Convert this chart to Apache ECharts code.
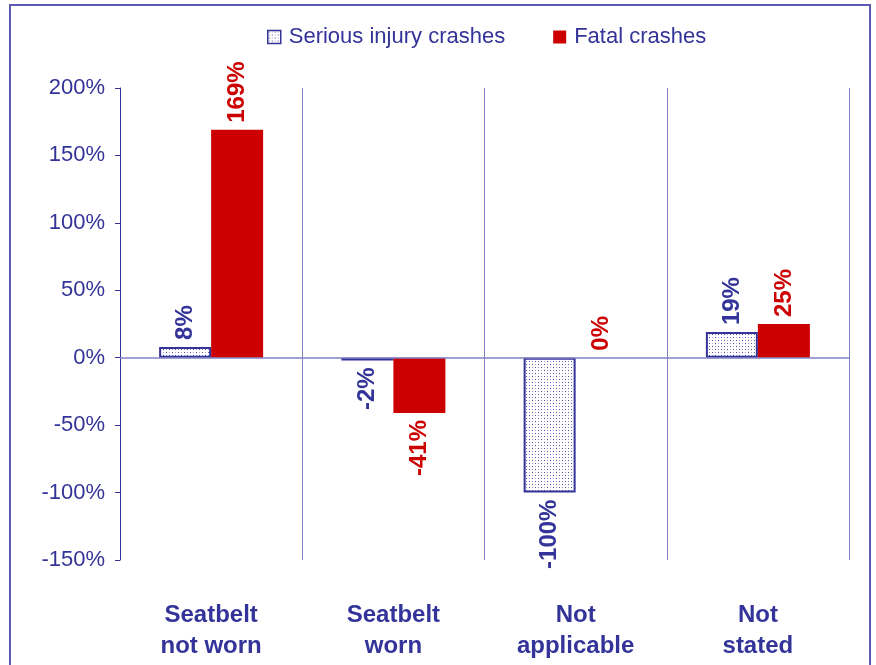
<!DOCTYPE html>
<html>
<head>
<meta charset="utf-8">
<script src="https://cdn.jsdelivr.net/npm/echarts@6/dist/echarts.min.js"></script>
<style>
  html, body { margin: 0; padding: 0; background: #fff; }
  #main { width: 876px; height: 665px; }
</style>
</head>
<body>
<div id="main"></div>
<script>
var categories = ['Seatbelt\nnot worn', 'Seatbelt\nworn', 'Not\napplicable', 'Not\nstated'];
var seriousInjury = [8, -2, -100, 19];
var fatal = [169, -41, 0, 25];
var yTicks = { min: -150, max: 200, interval: 50 };

var NAVY = '#333399';
var RED = '#cc0000';
var FONT = 'Liberation Sans, Arial, sans-serif';

// dotted fill for the serious injury bars
var dots = document.createElement('canvas');
dots.width = 6;
dots.height = 6;
var ctx = dots.getContext('2d');
ctx.fillStyle = '#ffffff';
ctx.fillRect(0, 0, 6, 6);
ctx.fillStyle = '#4a4aa0';
ctx.fillRect(1, 1, 1, 1);
ctx.fillRect(4, 4, 1, 1);
ctx.fillStyle = '#9c9cd0';
ctx.fillRect(4, 1, 1, 1);
ctx.fillRect(1, 4, 1, 1);

function labelled(values, color) {
  return values.map(function (v) {
    return {
      value: v,
      label: {
        show: true,
        position: v < 0 ? 'bottom' : 'top',
        rotate: 90,
        align: v < 0 ? 'right' : 'left',
        verticalAlign: 'middle',
        distance: 7,
        color: color,
        fontWeight: 'bold',
        fontSize: 24,
        fontFamily: FONT,
        formatter: '{c}%'
      }
    };
  });
}

var myChart = echarts.init(document.getElementById('main'));
var option = {
  animation: false,
  textStyle: { fontFamily: FONT },
  graphic: [{
    type: 'rect',
    shape: { x: 10, y: 5, width: 860, height: 700 },
    style: { fill: 'none', stroke: '#5a5ab0', lineWidth: 2 },
    silent: true
  }],
  legend: {
    top: 21,
    left: 262,
    itemGap: 48,
    itemWidth: 13,
    itemHeight: 13,
    icon: 'rect',
    textStyle: { color: NAVY, fontSize: 22, fontFamily: FONT, padding: [0, 0, 0, 3] },
    data: [
      { name: 'Serious injury crashes', itemStyle: { borderColor: NAVY, borderWidth: 1.5 } },
      { name: 'Fatal crashes' }
    ]
  },
  grid: { left: 120, right: 27, top: 88, bottom: 105, containLabel: false },
  xAxis: {
    type: 'category',
    data: categories,
    axisLine: { show: false, onZero: false },
    axisTick: { show: false },
    splitLine: { show: true, lineStyle: { color: '#8080c4', width: 1 } },
    axisLabel: {
      margin: 40,
      color: NAVY,
      fontWeight: 'bold',
      fontSize: 24,
      lineHeight: 31,
      fontFamily: FONT
    }
  },
  yAxis: {
    type: 'value',
    min: yTicks.min,
    max: yTicks.max,
    interval: yTicks.interval,
    axisLine: { show: true, lineStyle: { color: NAVY, width: 1 } },
    axisTick: { show: true, length: 5, lineStyle: { color: NAVY } },
    splitLine: { show: false },
    axisLabel: {
      formatter: '{value}%',
      color: NAVY,
      fontSize: 22,
      margin: 15,
      fontFamily: FONT
    }
  },
  series: [
    {
      name: 'Serious injury crashes',
      type: 'bar',
      barWidth: 52,
      barGap: '0%',
      data: labelled(seriousInjury, NAVY),
      itemStyle: {
        color: { image: dots, repeat: 'repeat' },
        borderColor: NAVY,
        borderWidth: 2
      },
      markLine: {
        silent: true,
        symbol: 'none',
        label: { show: false },
        lineStyle: { color: '#8080c4', type: 'solid', width: 1.5 },
        data: [{ yAxis: 0 }]
      }
    },
    {
      name: 'Fatal crashes',
      type: 'bar',
      barWidth: 52,
      barGap: '0%',
      data: labelled(fatal, RED),
      itemStyle: { color: RED }
    }
  ]
};
myChart.setOption(option);
</script>
</body>
</html>
